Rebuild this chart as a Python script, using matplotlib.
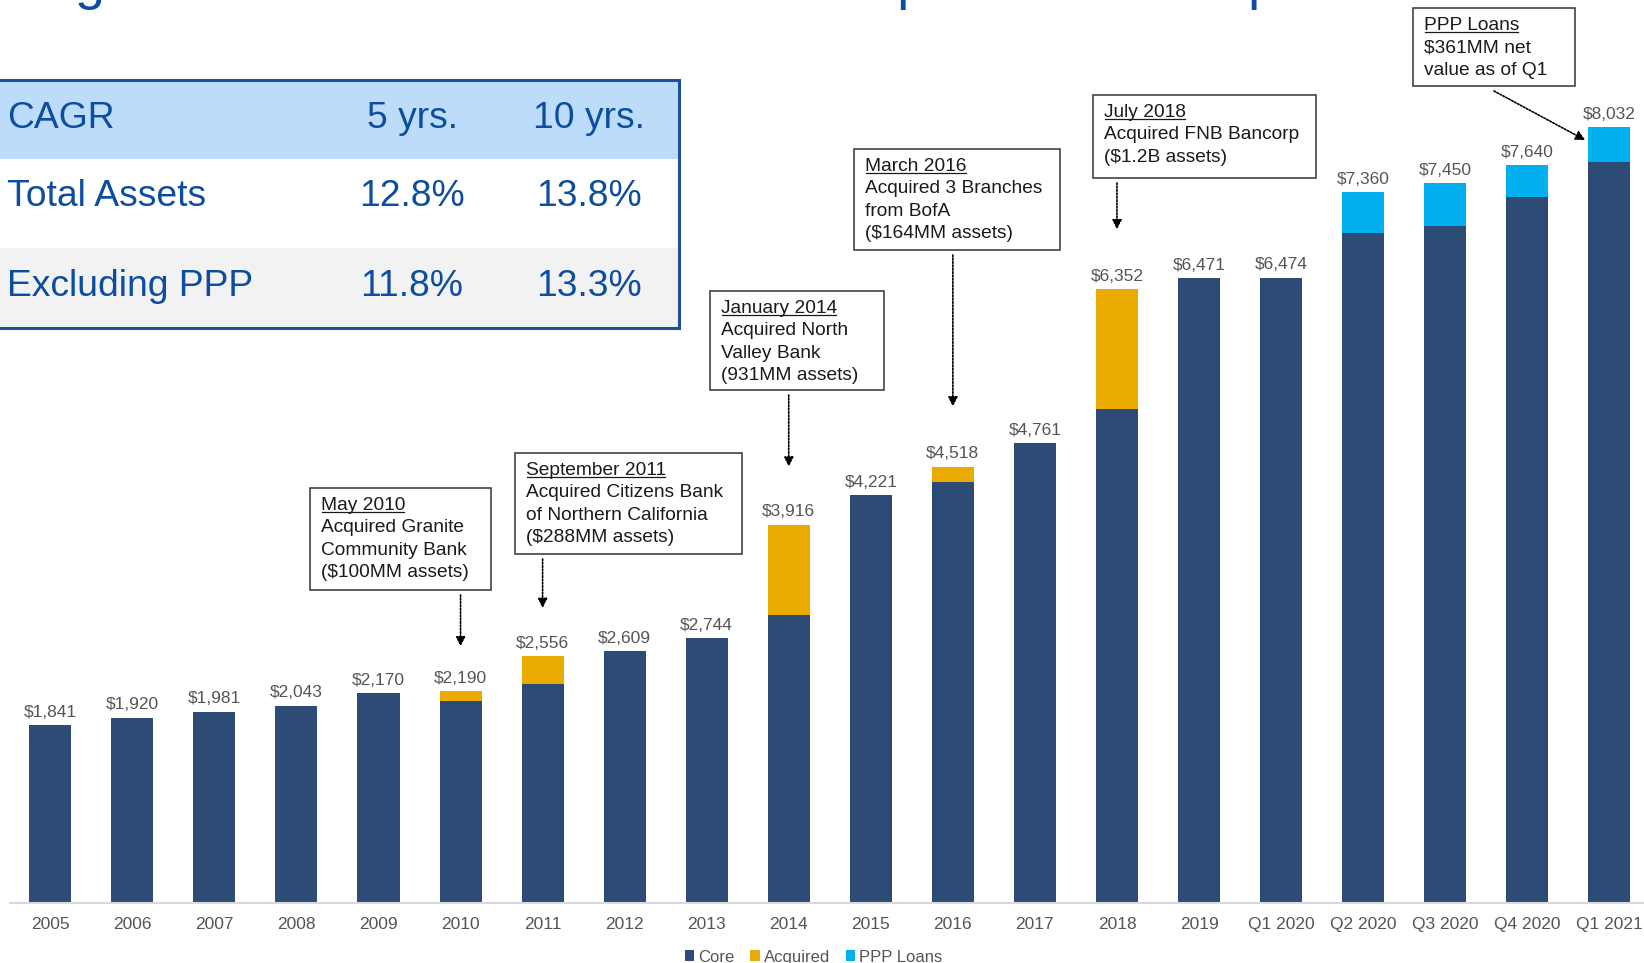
import matplotlib
matplotlib.use("Agg")
import matplotlib.pyplot as plt
from matplotlib.patches import Rectangle, Patch
from matplotlib.lines import Line2D
from matplotlib.transforms import offset_copy
from matplotlib import font_manager

# ---- total assets by period ($MM) ----
categories = ["2005", "2006", "2007", "2008", "2009", "2010", "2011", "2012",
              "2013", "2014", "2015", "2016", "2017", "2018", "2019",
              "Q1 2020", "Q2 2020", "Q3 2020", "Q4 2020", "Q1 2021"]
total_assets = [1841, 1920, 1981, 2043, 2170, 2190, 2556, 2609, 2744, 3916,
                4221, 4518, 4761, 6352, 6471, 6474, 7360, 7450, 7640, 8032]
acquired = [0, 0, 0, 0, 0, 100, 288, 0, 0, 931,
            0, 164, 0, 1240, 0, 0, 0, 0, 0, 0]
ppp_loans = [0, 0, 0, 0, 0, 0, 0, 0, 0, 0,
             0, 0, 0, 0, 0, 0, 421, 438, 331, 361]
core = [t - a - p for t, a, p in zip(total_assets, acquired, ppp_loans)]

# ---- CAGR table ----
cagr_header = ["CAGR", "5 yrs.", "10 yrs."]
cagr_rows = [["Total Assets", "12.8%", "13.8%"],
             ["Excluding PPP", "11.8%", "13.3%"]]

# ---- acquisition call-outs: heading, body lines, period ----
events = [
    ("May 2010", ["Acquired Granite", "Community Bank", "($100MM assets)"], "2010"),
    ("September 2011", ["Acquired Citizens Bank", "of Northern California",
                        "($288MM assets)"], "2011"),
    ("January 2014", ["Acquired North", "Valley Bank", "(931MM assets)"], "2014"),
    ("March 2016", ["Acquired 3 Branches", "from BofA", "($164MM assets)"], "2016"),
    ("July 2018", ["Acquired FNB Bancorp", "($1.2B assets)"], "2018"),
    ("PPP Loans", ["$361MM net", "value as of Q1"], "Q1 2021"),
]

title = "Organic Growth Combined with Disciplined M&A Expansion"

# ---- styling ----
CORE_C = "#2C4C75"
ACQ_C = "#EBAA00"
PPP_C = "#02AFEF"
LABEL_C = "#555555"
BLUE_TXT = "#0D4D9F"

W, H, DPI = 1644, 963, 100
fig = plt.figure(figsize=(W / DPI, H / DPI), dpi=DPI)
fig.patch.set_facecolor("white")

# main bar axes: baseline 60 px above the bottom edge
base_px = 903
px_per_unit = 0.0966
slot = 82.05
first_center = 50.3
ax = fig.add_axes([0, (H - base_px) / H, 1, base_px / H])
ax.set_ylim(0, base_px / px_per_unit)
ax.set_xlim(-first_center / slot, (W - first_center) / slot)

x = list(range(len(categories)))
bw = 0.512
ax.bar(x, core, bw, color=CORE_C, linewidth=0, label="Core")
ax.bar(x, acquired, bw, bottom=core, color=ACQ_C, linewidth=0, label="Acquired")
ppp_bottom = [c + a for c, a in zip(core, acquired)]
ax.bar(x, ppp_loans, bw, bottom=ppp_bottom, color=PPP_C, linewidth=0, label="PPP Loans")

for i, v in enumerate(total_assets):
    ax.annotate(f"${v:,}", xy=(i, v), xytext=(0, 6), textcoords="offset points",
                ha="center", va="baseline", fontsize=12.5, color=LABEL_C,
                family=["Liberation Sans", "DejaVu Sans"])

ax.set_xticks(x)
ax.set_xticklabels(categories, family=["Liberation Sans", "DejaVu Sans"])
ax.tick_params(axis="x", length=0, pad=10, labelsize=12.5, labelcolor=LABEL_C)
ax.set_yticks([])
for s in ("left", "right", "top"):
    ax.spines[s].set_visible(False)
ax.spines["bottom"].set_color("#D9D9D9")
ax.spines["bottom"].set_linewidth(1.5)
ax.spines["bottom"].set_bounds(-0.49, ax.get_xlim()[1])
ax.patch.set_alpha(0)

handles = [Patch(facecolor=CORE_C), Patch(facecolor=ACQ_C), Patch(facecolor=PPP_C)]
ax.legend(handles, ["Core", "Acquired", "PPP Loans"], loc="center",
          bbox_to_anchor=(0.495, 6 / H), bbox_transform=fig.transFigure,
          ncol=3, frameon=False, handlelength=0.55, handleheight=0.6,
          handletextpad=0.25, columnspacing=0.95, labelcolor=LABEL_C,
          prop={"family": "Liberation Sans", "size": 12})

# overlay in pixel coordinates for the table, title and call-outs
ov = fig.add_axes([0, 0, 1, 1])
ov.set_xlim(0, W)
ov.set_ylim(H, 0)
ov.axis("off")
ov.patch.set_visible(False)
ov.set_zorder(5)

# title (runs off the top edge, only descenders remain in view)
ov.text(15, -1, title, fontsize=38.9, color=BLUE_TXT, ha="left", va="baseline",
        family="Liberation Sans")

# CAGR table
names = {f.name for f in font_manager.fontManager.ttflist}
if "Liberation Sans Narrow" in names:
    tfam, tsize = "Liberation Sans Narrow", 31.5
else:
    tfam, tsize = "Liberation Sans", 26.8
t_left, t_right = -6, 679
row_edges = [80, 159, 248, 328]
row_fills = ["#BDDCFA", "white", "#F2F2F2"]
for k, fc in enumerate(row_fills):
    ov.add_patch(Rectangle((t_left, row_edges[k]), t_right - t_left,
                           row_edges[k + 1] - row_edges[k], facecolor=fc,
                           edgecolor="none", zorder=1))
ov.add_patch(Rectangle((t_left, row_edges[0]), t_right - t_left,
                       row_edges[-1] - row_edges[0], facecolor="none",
                       edgecolor="#1F4E9A", linewidth=2.2, zorder=2))
row_baselines = [128, 206.5, 296.5]
col_x = [7, 412, 589]
for r, row in enumerate([cagr_header] + cagr_rows):
    for c, txt in enumerate(row):
        ov.text(col_x[c], row_baselines[r], txt, fontsize=tsize, color=BLUE_TXT,
                ha="left" if c == 0 else "center", va="baseline", family=tfam,
                zorder=3)

# call-out boxes: left, top, width, height (px)
box_geom = [
    (310, 488, 181, 102),
    (515, 453, 227, 101),
    (710, 291, 174, 99),
    (854, 149, 206, 101),
    (1093, 95, 223, 83),
    (1413, 8, 162, 78),
]
# arrow tip offset from the bar top (px, +up) and arrow start x (None = bar centre)
tip_offsets = [(0, 45), (0, 48), (0, 58), (0, 60), (0, 60), (-24, -13)]
start_x = [None, None, None, None, None, 1494]

line_gap = 22.4
fs_box = 13.8
heads = []
for (head, body, cat), (bl, bt, bwid, bh), (dx, dy), sx in zip(
        events, box_geom, tip_offsets, start_x):
    ov.add_patch(Rectangle((bl, bt), bwid, bh, facecolor="white",
                           edgecolor="#333333", linewidth=1.1, zorder=2))
    tx = bl + 11
    ty = bt + 22
    th = ov.text(tx, ty, head, fontsize=fs_box, color="#1A1A1A", ha="left",
                 va="baseline", family="Liberation Sans", zorder=3)
    heads.append((th, ty))
    for j, ln in enumerate(body):
        ov.text(tx, ty + line_gap * (j + 1), ln, fontsize=fs_box, color="#1A1A1A",
                ha="left", va="baseline", family="Liberation Sans", zorder=3)
    i = categories.index(cat)
    cx = ax.transData.transform((i, 0))[0]
    arrow_x = cx if sx is None else sx
    tip_trans = offset_copy(ax.transData, x=dx, y=dy, units="dots")
    ov.annotate("", xy=(i, total_assets[i]), xycoords=tip_trans,
                xytext=(arrow_x, bt + bh + 5), textcoords="data",
                annotation_clip=False,
                arrowprops=dict(arrowstyle="-|>", linestyle=(0, (1, 1)),
                                linewidth=1.2, color="black",
                                mutation_scale=14, shrinkA=0, shrinkB=0))

# underline the call-out headings
fig.canvas.draw()
renderer = fig.canvas.get_renderer()
for th, ty in heads:
    bb = th.get_window_extent(renderer)
    ov.add_line(Line2D([bb.x0 + 1, bb.x1 - 1], [ty + 2.5, ty + 2.5],
                       color="#1A1A1A", linewidth=0.9, zorder=3))

fig.savefig("out.png", dpi=DPI, facecolor="white")
